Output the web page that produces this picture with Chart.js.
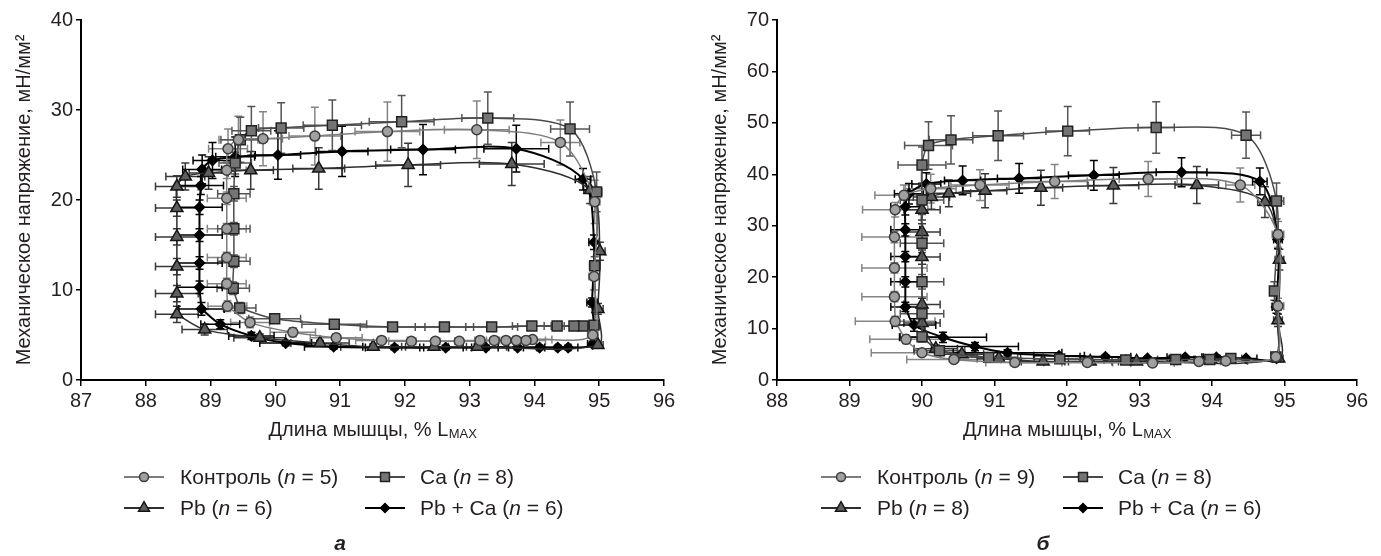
<!DOCTYPE html>
<html lang="ru">
<head>
<meta charset="utf-8">
<script src="https://cdn.jsdelivr.net/npm/chart.js@4.4.1/dist/chart.umd.min.js"></script>
<style>
  body { margin: 0; background: #fff; }
  #wrap { position: relative; width: 1381px; height: 556px; }
  canvas { position: absolute; top: 0; }
  #chartA { left: 0; }
  #chartB { left: 690px; }
</style>
</head>
<body>
<div id="wrap">
  <canvas id="chartA" width="690" height="556"></canvas>
  <canvas id="chartB" width="691" height="556"></canvas>
</div>
<script>
// ---- panel а ----
const aCtrlX = [89.26, 89.25, 89.25, 89.25, 89.25, 89.25, 89.27, 89.43, 89.81, 90.61, 91.73, 93.11, 94.40, 94.93, 94.92, 94.90, 93.97, 93.87, 93.72, 93.56, 93.38, 93.16, 92.84, 92.47, 92.10, 91.64, 90.94, 90.27, 89.61];
const aCtrlY = [8.2, 10.7, 13.6, 16.8, 20.2, 23.3, 25.7, 26.7, 26.8, 27.1, 27.6, 27.8, 26.4, 19.8, 11.5, 5.0, 4.5, 4.4, 4.4, 4.4, 4.4, 4.4, 4.3, 4.3, 4.3, 4.4, 4.7, 5.3, 6.4];
const aCtrlXe = [0.3, 0.3, 0.3, 0.3, 0.3, 0.3, 0.3, 0.3, 0.3, 0.4, 0.5, 0.5, 0.3, 0.08, 0.08, 0.08, 0.3, 0.3, 0.3, 0.3, 0.3, 0.3, 0.3, 0.3, 0.35, 0.4, 0.4, 0.35, 0.3];
const aCtrlYe = [0.6, 0.6, 0.6, 0.6, 0.7, 0.9, 2.2, 2.6, 3.0, 3.2, 3.3, 3.2, 2.5, 2.4, 1.5, 0.8, 0.3, 0.3, 0.3, 0.3, 0.3, 0.3, 0.3, 0.3, 0.3, 0.3, 0.4, 0.5, 0.6];

const aCaX = [89.45, 89.35, 89.36, 89.36, 89.36, 89.38, 89.46, 89.63, 90.09, 90.88, 91.95, 93.28, 94.55, 94.96, 94.93, 94.92, 94.75, 94.61, 94.35, 93.96, 93.34, 92.61, 91.81, 90.91, 89.99];
const aCaY = [8.0, 10.2, 13.2, 16.8, 20.7, 24.1, 26.7, 27.7, 28.0, 28.3, 28.7, 29.1, 27.9, 20.9, 12.7, 6.1, 6.0, 6.0, 6.0, 6.0, 5.9, 5.9, 5.9, 6.2, 6.8];
const aCaXe = [0.25, 0.25, 0.25, 0.25, 0.25, 0.25, 0.3, 0.3, 0.35, 0.45, 0.5, 0.4, 0.3, 0.08, 0.08, 0.08, 0.1, 0.15, 0.2, 0.3, 0.4, 0.45, 0.5, 0.5, 0.4];
const aCaYe = [0.6, 0.7, 0.7, 0.7, 0.8, 1.2, 2.5, 2.7, 2.8, 2.8, 2.9, 2.9, 3.0, 2.2, 1.0, 0.4, 0.3, 0.3, 0.3, 0.3, 0.3, 0.3, 0.3, 0.3, 0.5];

const aPbX = [88.48, 88.48, 88.48, 88.48, 88.48, 88.48, 88.61, 88.97, 89.62, 90.67, 92.05, 93.65, 94.86, 95.01, 94.98, 94.98, 93.12, 92.45, 91.51, 90.69, 89.76, 88.91];
const aPbY = [7.3, 9.6, 12.6, 15.9, 19.1, 21.5, 22.6, 23.0, 23.3, 23.5, 23.9, 24.0, 21.1, 14.3, 7.9, 3.9, 3.7, 3.7, 3.7, 4.1, 4.7, 5.6];
const aPbXe = [0.33, 0.33, 0.33, 0.33, 0.33, 0.33, 0.3, 0.3, 0.35, 0.4, 0.5, 0.5, 0.1, 0.08, 0.08, 0.08, 0.45, 0.5, 0.5, 0.45, 0.4, 0.35];
const aPbYe = [0.9, 0.9, 0.9, 0.9, 0.9, 1.2, 1.5, 1.8, 2.1, 2.3, 2.4, 2.4, 1.5, 1.0, 0.6, 0.3, 0.3, 0.3, 0.3, 0.3, 0.4, 0.6];

const aPbCaX = [88.86, 88.83, 88.83, 88.83, 88.83, 88.85, 88.87, 89.03, 89.38, 90.04, 91.03, 92.28, 93.72, 94.75, 94.92, 94.89, 94.90, 94.52, 94.36, 94.08, 93.74, 93.25, 92.63, 91.84, 90.90, 90.16, 89.63, 89.15];
const aPbCaY = [7.9, 10.3, 13.0, 16.1, 19.2, 21.6, 23.4, 24.4, 24.8, 25.0, 25.4, 25.6, 25.7, 22.3, 15.3, 8.6, 4.0, 3.6, 3.6, 3.6, 3.6, 3.6, 3.6, 3.6, 3.7, 4.1, 4.9, 6.2];
const aPbCaXe = [0.35, 0.35, 0.35, 0.35, 0.35, 0.35, 0.3, 0.3, 0.3, 0.35, 0.4, 0.5, 0.5, 0.12, 0.08, 0.08, 0.08, 0.15, 0.2, 0.25, 0.3, 0.35, 0.4, 0.45, 0.45, 0.4, 0.35, 0.3];
const aPbCaYe = [0.7, 0.7, 0.7, 0.7, 0.8, 1.0, 1.6, 2.0, 2.2, 2.7, 2.8, 2.8, 2.6, 1.2, 0.8, 0.5, 0.3, 0.25, 0.25, 0.25, 0.25, 0.25, 0.25, 0.25, 0.25, 0.3, 0.4, 0.5];

// ---- panel б ----
const bCtrlX = [89.63, 89.62, 89.62, 89.62, 89.63, 89.75, 90.12, 90.80, 91.83, 93.12, 94.39, 94.91, 94.91, 94.88, 94.19, 93.82, 93.18, 92.28, 91.28, 90.44, 90.00, 89.78];
const bCtrlY = [11.4, 16.2, 21.8, 27.8, 33.1, 35.9, 37.2, 37.9, 38.6, 39.1, 37.9, 28.3, 14.4, 4.5, 3.7, 3.6, 3.3, 3.4, 3.4, 4.0, 5.3, 7.9];
const bCtrlXe = [0.55, 0.45, 0.45, 0.45, 0.45, 0.4, 0.35, 0.4, 0.45, 0.4, 0.2, 0.08, 0.08, 0.06, 0.3, 0.3, 0.3, 0.35, 0.4, 0.65, 0.7, 0.5];
const bCtrlYe = [1.0, 1.0, 1.0, 1.1, 1.4, 2.0, 2.8, 3.0, 3.3, 3.4, 3.3, 2.5, 1.5, 0.4, 0.3, 0.3, 0.3, 0.3, 0.3, 0.4, 0.6, 0.8];

const bCaX = [90.00, 90.00, 90.00, 90.00, 90.00, 90.00, 90.09, 90.40, 91.05, 92.01, 93.23, 94.47, 94.89, 94.86, 94.88, 94.26, 93.97, 93.50, 92.81, 91.90, 90.92, 90.24];
const bCaY = [8.4, 12.9, 19.1, 26.6, 35.0, 41.8, 45.6, 46.7, 47.5, 48.4, 49.1, 47.6, 34.8, 17.3, 4.5, 4.2, 4.0, 4.0, 3.9, 4.1, 4.4, 5.7];
const bCaXe = [0.3, 0.3, 0.3, 0.3, 0.3, 0.33, 0.33, 0.3, 0.35, 0.3, 0.25, 0.2, 0.1, 0.06, 0.06, 0.15, 0.2, 0.25, 0.3, 0.35, 0.4, 0.35];
const bCaYe = [1.0, 1.2, 1.4, 1.8, 2.8, 3.5, 4.6, 4.7, 4.8, 4.8, 5.0, 4.5, 3.5, 1.8, 0.4, 0.3, 0.3, 0.3, 0.3, 0.3, 0.4, 0.6];

const bPbX = [90.00, 90.00, 90.00, 90.00, 90.00, 90.13, 90.37, 90.87, 91.64, 92.64, 93.79, 94.73, 94.93, 94.91, 94.92, 92.96, 92.32, 91.67, 91.06, 90.55, 90.19];
const bPbY = [11.1, 14.7, 23.9, 28.8, 33.1, 35.6, 36.3, 36.8, 37.4, 37.8, 37.9, 34.6, 23.4, 11.6, 4.2, 3.6, 3.6, 3.6, 4.2, 5.0, 6.1];
const bPbXe = [0.25, 0.25, 0.25, 0.25, 0.25, 0.25, 0.3, 0.3, 0.3, 0.35, 0.3, 0.1, 0.06, 0.06, 0.06, 0.25, 0.3, 0.3, 0.3, 0.3, 0.3];
const bPbYe = [1.0, 1.2, 1.4, 1.6, 2.0, 2.4, 2.6, 3.3, 3.4, 3.5, 3.6, 3.0, 2.0, 1.2, 0.3, 0.3, 0.3, 0.3, 0.4, 0.5, 0.7];

const bPbCaX = [89.77, 89.77, 89.77, 89.77, 89.77, 89.82, 90.06, 90.56, 91.34, 92.37, 93.58, 94.66, 94.91, 94.89, 94.89, 94.47, 94.06, 93.63, 93.11, 92.53, 91.89, 91.18, 90.73, 90.29, 89.89];
const bPbCaY = [14.2, 19.1, 24.0, 29.2, 33.7, 36.2, 38.1, 38.8, 39.2, 39.8, 40.4, 38.6, 27.3, 14.2, 4.2, 4.2, 4.4, 4.4, 4.2, 4.5, 4.7, 5.3, 6.5, 8.3, 10.7];
const bPbCaXe = [0.2, 0.2, 0.2, 0.2, 0.2, 0.2, 0.2, 0.25, 0.3, 0.35, 0.35, 0.1, 0.06, 0.06, 0.05, 0.15, 0.2, 0.25, 0.3, 0.35, 0.35, 0.75, 0.6, 0.6, 0.3];
const bPbCaYe = [0.9, 1.0, 1.0, 1.2, 1.6, 2.0, 2.2, 2.8, 2.9, 2.9, 2.8, 2.6, 1.8, 1.2, 0.3, 0.3, 0.3, 0.3, 0.3, 0.3, 0.4, 0.6, 0.8, 1.0, 1.2];

// legend text
const seriesNames = ["Контроль", "Ca", "Pb", "Pb + Ca"];
const nA = [5, 8, 6, 6];
const nB = [9, 8, 8, 6];

const FONT = '"Liberation Sans", Arial, sans-serif';
const TEXT = '#231f20';

const styles = [
  { pointStyle: 'circle', radius: 5, fill: '#a0a0a0', border: '#3c3c3c', line: '#7d7d7d', err: '#858585', lineWidth: 1.5 },
  { pointStyle: 'rect', radius: 7, fill: '#747474', border: '#222', line: '#4a4a4a', err: '#555', lineWidth: 1.5 },
  { pointStyle: 'triangle', radius: 7, fill: '#5e5e5e', border: '#151515', line: '#2e2e2e', err: '#383838', lineWidth: 1.5 },
  { pointStyle: 'rectRot', radius: 5, fill: '#000', border: '#000', line: '#000', err: '#000', lineWidth: 2 },
];

const makeDataset = (label, xs, ys, xe, ye, st) => {
  const pts = xs.map((x, i) => ({ x: x, y: ys[i] }));
  pts.push({ x: xs[0], y: ys[0] }); // close the loop
  return {
    label: label,
    data: pts,
    showLine: true,
    tension: 0.3,
    borderColor: st.line,
    borderWidth: st.lineWidth,
    pointStyle: st.pointStyle,
    pointRadius: pts.map((p, i) => (i === pts.length - 1 ? 0 : st.radius)),
    pointBackgroundColor: st.fill,
    pointBorderColor: st.border,
    pointBorderWidth: 1.5,
    xErr: xe,
    yErr: ye,
    errColor: st.err,
  };
};

const errorBars = {
  id: 'errorBars',
  beforeDatasetsDraw(chart) {
    const ctx = chart.ctx;
    const sx = chart.scales.x, sy = chart.scales.y;
    chart.data.datasets.forEach((ds) => {
      ctx.save();
      ctx.strokeStyle = ds.errColor;
      ctx.lineWidth = 1.5;
      ds.xErr.forEach((xe, i) => {
        const p = ds.data[i];
        const px = sx.getPixelForValue(p.x), py = sy.getPixelForValue(p.y);
        const x1 = sx.getPixelForValue(p.x - xe), x2 = sx.getPixelForValue(p.x + xe);
        const y1 = sy.getPixelForValue(p.y - ds.yErr[i]), y2 = sy.getPixelForValue(p.y + ds.yErr[i]);
        ctx.beginPath();
        ctx.moveTo(x1, py); ctx.lineTo(x2, py);
        ctx.moveTo(x1, py - 4); ctx.lineTo(x1, py + 4);
        ctx.moveTo(x2, py - 4); ctx.lineTo(x2, py + 4);
        ctx.moveTo(px, y1); ctx.lineTo(px, y2);
        ctx.moveTo(px - 4, y1); ctx.lineTo(px + 4, y1);
        ctx.moveTo(px - 4, y2); ctx.lineTo(px + 4, y2);
        ctx.stroke();
      });
      ctx.restore();
    });
  }
};

const drawMarker = (ctx, st, x, y) => {
  const r = st.radius;
  ctx.fillStyle = st.fill;
  ctx.strokeStyle = st.border;
  ctx.lineWidth = 1.5;
  ctx.beginPath();
  if (st.pointStyle === 'circle') {
    ctx.arc(x, y, r, 0, Math.PI * 2);
  } else if (st.pointStyle === 'rect') {
    const s = r * Math.SQRT1_2;
    ctx.rect(x - s, y - s, 2 * s, 2 * s);
  } else if (st.pointStyle === 'triangle') {
    ctx.moveTo(x, y - r);
    ctx.lineTo(x + r * 0.866, y + r * 0.5);
    ctx.lineTo(x - r * 0.866, y + r * 0.5);
    ctx.closePath();
  } else {
    ctx.moveTo(x - r, y); ctx.lineTo(x, y - r); ctx.lineTo(x + r, y); ctx.lineTo(x, y + r);
    ctx.closePath();
  }
  ctx.fill();
  ctx.stroke();
};

const panelText = {
  id: 'panelText',
  afterDraw(chart, args, opts) {
    const ctx = chart.ctx;
    const area = chart.chartArea;
    ctx.save();
    ctx.fillStyle = TEXT;
    ctx.textBaseline = 'alphabetic';
    ctx.textAlign = 'left';

    // x axis title with subscript
    const main = 'Длина мышцы, % L';
    ctx.font = '20px ' + FONT;
    const w1 = ctx.measureText(main).width;
    ctx.font = '13px ' + FONT;
    const w2 = ctx.measureText('MAX').width;
    const x0 = (area.left + area.right) / 2 - (w1 + w2) / 2;
    ctx.font = '20px ' + FONT;
    ctx.fillText(main, x0, 436);
    ctx.font = '13px ' + FONT;
    ctx.fillText('MAX', x0 + w1 + 0.5, 438);

    // legend
    const cols = opts.cols, rows = [477, 508];
    seriesNames.forEach((name, i) => {
      const col = cols[i % 2];
      const y = rows[Math.floor(i / 2)];
      const st = styles[i];
      ctx.strokeStyle = st.line;
      ctx.lineWidth = 2;
      ctx.beginPath();
      ctx.moveTo(col.m - 20, y); ctx.lineTo(col.m + 20, y);
      ctx.stroke();
      drawMarker(ctx, Object.assign({}, st, { radius: st.radius * 0.9 }), col.m, y);
      ctx.fillStyle = TEXT;
      let tx = col.t;
      const parts = [[name + ' (', ''], ['n', 'italic '], [' = ' + opts.n[i] + ')', '']];
      parts.forEach(([s, f]) => {
        ctx.font = f + '21px ' + FONT;
        ctx.textBaseline = 'middle';
        ctx.fillText(s, tx, y + 1);
        tx += ctx.measureText(s).width;
      });
    });

    // panel letter
    ctx.font = 'italic bold 21px ' + FONT;
    ctx.textAlign = 'center';
    ctx.textBaseline = 'middle';
    ctx.fillText(opts.letter, opts.letterX, 544);
    ctx.restore();
  }
};

const makeChart = (canvasId, datasets, cfg) => {
  const tickFont = { size: 20, family: FONT };
  return new Chart(document.getElementById(canvasId), {
    type: 'scatter',
    data: { datasets: datasets },
    options: {
      responsive: false,
      animation: false,
      layout: { padding: { left: 0, right: cfg.padRight, top: 20, bottom: 0 } },
      scales: {
        x: {
          type: 'linear',
          min: cfg.xMin, max: cfg.xMax,
          ticks: { stepSize: 1, color: TEXT, font: tickFont, padding: 3 },
          grid: { drawOnChartArea: false, tickLength: 6, color: '#000', lineWidth: 1.5 },
          border: { color: '#000', width: 2 },
          afterFit: (s) => { s.height = 176; },
        },
        y: {
          min: 0, max: cfg.yMax,
          ticks: { stepSize: 10, color: TEXT, font: tickFont, padding: 3 },
          grid: { drawOnChartArea: false, tickLength: 5, color: '#000', lineWidth: 1.5 },
          border: { color: '#000', width: 2 },
          title: {
            display: true,
            text: 'Механическое напряжение, мН/мм²',
            color: TEXT,
            font: { size: 20, family: FONT },
            padding: { top: cfg.titlePad, bottom: 0 },
          },
          afterFit: (s) => { s.width = cfg.yWidth; },
        },
      },
      plugins: {
        legend: { display: false },
        tooltip: { enabled: false },
        panelText: { cols: cfg.cols, n: cfg.n, letter: cfg.letter, letterX: cfg.letterX },
      },
    },
    plugins: [errorBars, panelText],
  });
};

makeChart('chartA', [
  makeDataset('Контроль', aCtrlX, aCtrlY, aCtrlXe, aCtrlYe, styles[0]),
  makeDataset('Ca', aCaX, aCaY, aCaXe, aCaYe, styles[1]),
  makeDataset('Pb', aPbX, aPbY, aPbXe, aPbYe, styles[2]),
  makeDataset('Pb + Ca', aPbCaX, aPbCaY, aPbCaXe, aPbCaYe, styles[3]),
], {
  xMin: 87, xMax: 96, yMax: 40, yWidth: 81, padRight: 26, titlePad: 12,
  cols: [{ m: 144, t: 180 }, { m: 385, t: 420 }], n: nA, letter: 'а', letterX: 340,
});

makeChart('chartB', [
  makeDataset('Контроль', bCtrlX, bCtrlY, bCtrlXe, bCtrlYe, styles[0]),
  makeDataset('Ca', bCaX, bCaY, bCaXe, bCaYe, styles[1]),
  makeDataset('Pb', bPbX, bPbY, bPbXe, bPbYe, styles[2]),
  makeDataset('Pb + Ca', bPbCaX, bPbCaY, bPbCaXe, bPbCaYe, styles[3]),
], {
  xMin: 88, xMax: 96, yMax: 70, yWidth: 87, padRight: 24, titlePad: 18,
  cols: [{ m: 151, t: 187 }, { m: 393, t: 428 }], n: nB, letter: 'б', letterX: 353,
});
</script>
</body>
</html>
